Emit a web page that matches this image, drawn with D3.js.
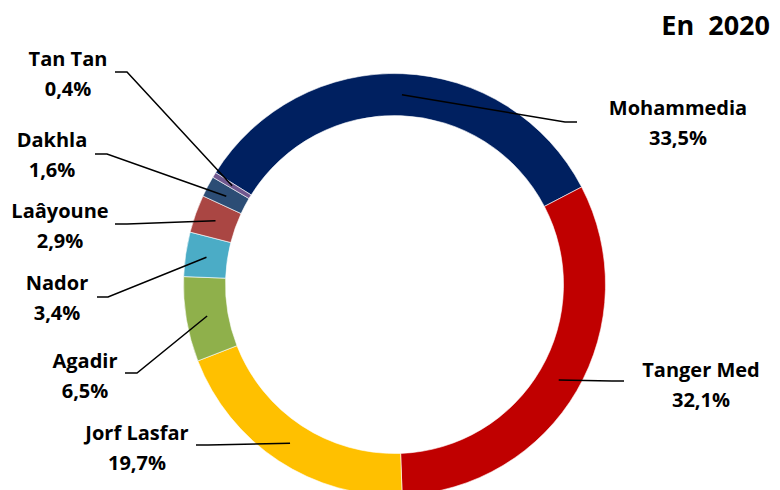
<!DOCTYPE html>
<html>
<head>
<meta charset="utf-8">
<script src="https://cdn.jsdelivr.net/npm/d3@7"></script>
<style>
html,body{margin:0;padding:0;background:#fff;}
svg{display:block;}
text{font-family:"Open Sans",Lato,sans-serif;font-weight:700;fill:#000;}
</style>
</head>
<body>
<svg id="chart" width="780" height="490"></svg>
<script>
// ---- data ----
const categories = ["Mohammedia","Tanger Med","Jorf Lasfar","Agadir","Nador","Laâyoune","Dakhla","Tan Tan"];
const values = [33.5, 32.1, 19.7, 6.5, 3.4, 2.9, 1.6, 0.4];
const valueLabels = ["33,5%","32,1%","19,7%","6,5%","3,4%","2,9%","1,6%","0,4%"];
const colors = ["#002060","#C00000","#FFC000","#8FB04B","#4BACC6","#AA4643","#2C4D75","#71588F"];
const title = "En  2020";

// ---- layout (label placement) ----
const labelPos = [ // [center x, first baseline]
  [678, 115],[701, 377],[137, 440],[85, 368],[57, 290],[60, 218],[52, 147],[68, 66]
];
const elbows = [ // [elbow x, elbow y, end x]
  [565,122,577],[612,381,624],[208,445,196],[137,373,125],[108,297,97],[127,224,115],[107,154,95],[127,72,115]
];

const svg = d3.select("#chart");
const cx = 394.5, cy = 284.5, rOuter = 211, rInner = 169, rAnchor = 190;
const start = -58 * Math.PI / 180;

const pie = d3.pie().sort(null).value(d => d).startAngle(start).endAngle(start + 2 * Math.PI);
const arcs = pie(values);
const arc = d3.arc().innerRadius(rInner).outerRadius(rOuter);

const g = svg.append("g").attr("transform", `translate(${cx},${cy})`);
g.selectAll("path.slice").data(arcs).join("path")
  .attr("class","slice")
  .attr("d", arc)
  .attr("fill", (d,i) => colors[i])
  .attr("stroke", "#fff")
  .attr("stroke-width", 0.6);

// leader lines
const anchorArc = d3.arc().innerRadius(rAnchor).outerRadius(rAnchor);
svg.append("g").selectAll("polyline").data(arcs).join("polyline")
  .attr("fill","none").attr("stroke","#000").attr("stroke-width",1.5)
  .attr("points", (d,i) => {
    const c = anchorArc.centroid(d);
    const e = elbows[i];
    return [[c[0]+cx, c[1]+cy],[e[0],e[1]],[e[2],e[1]]].map(p=>p.join(",")).join(" ");
  });

// labels
const lg = svg.append("g");
categories.forEach((c,i) => {
  const t = lg.append("text").attr("text-anchor","middle").attr("font-size",20);
  t.append("tspan").attr("x", labelPos[i][0]).attr("y", labelPos[i][1]).text(c);
  t.append("tspan").attr("x", labelPos[i][0]).attr("y", labelPos[i][1] + 29.5).text(valueLabels[i]);
});

svg.append("text").attr("x", 770).attr("y", 35).attr("text-anchor","end")
  .attr("font-size", 27).style("white-space","pre").text(title);
</script>
</body>
</html>
